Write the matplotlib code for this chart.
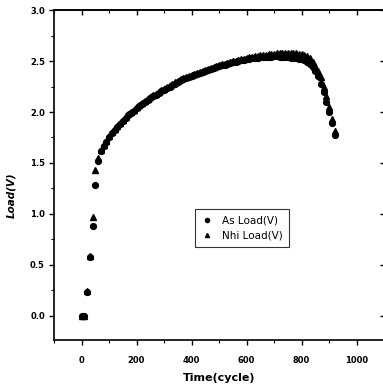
import matplotlib
matplotlib.use("Agg")
import matplotlib.pyplot as plt
from matplotlib.ticker import MultipleLocator

cycles = list(range(0, 930, 10))

as_load = [0.00, 0.00, 0.23, 0.58, 0.88, 1.28, 1.52, 1.62, 1.67, 1.71,
           1.75, 1.79, 1.82, 1.85, 1.88, 1.91, 1.94, 1.97, 1.99, 2.01,
           2.04, 2.06, 2.08, 2.10, 2.12, 2.14, 2.16, 2.17, 2.19, 2.21,
           2.22, 2.24, 2.25, 2.27, 2.28, 2.29, 2.31, 2.32, 2.33, 2.34,
           2.35, 2.36, 2.37, 2.38, 2.39, 2.40, 2.41, 2.42, 2.43, 2.44,
           2.45, 2.46, 2.46, 2.47, 2.48, 2.49, 2.49, 2.50, 2.51, 2.51,
           2.52, 2.52, 2.53, 2.53, 2.53, 2.54, 2.54, 2.54, 2.54, 2.54,
           2.55, 2.55, 2.54, 2.54, 2.54, 2.54, 2.53, 2.53, 2.53, 2.52,
           2.52, 2.51, 2.49, 2.47, 2.44, 2.40, 2.35, 2.28, 2.20, 2.10,
           2.00, 1.89, 1.77]

nhi_load = [0.00, 0.00, 0.24, 0.59, 0.97, 1.43, 1.55, 1.63, 1.68, 1.72,
            1.76, 1.80, 1.83, 1.86, 1.89, 1.92, 1.95, 1.98, 2.00, 2.02,
            2.05, 2.07, 2.09, 2.11, 2.13, 2.15, 2.17, 2.18, 2.20, 2.22,
            2.23, 2.25, 2.26, 2.28, 2.29, 2.30, 2.32, 2.33, 2.34, 2.35,
            2.36, 2.37, 2.38, 2.39, 2.40, 2.41, 2.42, 2.43, 2.44, 2.45,
            2.46, 2.47, 2.47, 2.48, 2.49, 2.50, 2.50, 2.51, 2.52, 2.52,
            2.53, 2.54, 2.54, 2.55, 2.55, 2.56, 2.56, 2.56, 2.57, 2.57,
            2.57, 2.58, 2.58, 2.58, 2.58, 2.58, 2.58, 2.58, 2.58, 2.57,
            2.57, 2.56, 2.55, 2.53, 2.49, 2.45, 2.40, 2.34, 2.25, 2.16,
            2.05, 1.93, 1.81]

xticks = [0, 200, 400, 600, 800, 1000]
yticks = [0.0, 0.5, 1.0, 1.5, 2.0, 2.5, 3.0]

fam = ['Liberation Sans Narrow', 'DejaVu Sans']

fig = plt.figure(figsize=(3.83, 3.91), dpi=100)
ax = fig.add_axes([0.141, 0.130, 1.003 - 0.141, 0.974 - 0.130])

ax.plot(cycles, as_load, linestyle='none', marker='o', markersize=4.2,
        color='black', label='As Load(V)')
ax.plot(cycles, nhi_load, linestyle='none', marker='^', markersize=4.2,
        color='black', label='Nhi Load(V)')

ax.set_xlim(-100, 1100)
ax.set_ylim(-0.24, 3.0)
ax.set_xticks(xticks)
ax.set_yticks(yticks)
ax.set_yticklabels([f"{v:.1f}" for v in yticks])
ax.xaxis.set_minor_locator(MultipleLocator(100))
ax.yaxis.set_minor_locator(MultipleLocator(0.25))

for s in ['left', 'bottom', 'top']:
    ax.spines[s].set_linewidth(1.2)
ax.spines['right'].set_visible(False)

ax.tick_params(axis='both', which='major', direction='out', length=3.5, width=1,
               top=False, right=False)
ax.tick_params(axis='both', which='minor', direction='out', length=2, width=0.8,
               top=False, right=False)

# top ticks pointing into the plot
sx = ax.secondary_xaxis('top')
sx.set_xticks(xticks)
sx.xaxis.set_minor_locator(MultipleLocator(100))
sx.tick_params(which='major', direction='in', length=3.5, width=1, labeltop=False)
sx.tick_params(which='minor', direction='in', length=2, width=0.8)
sx.spines['top'].set_linewidth(1.2)

# right ticks pointing into the plot
sy = ax.secondary_yaxis('right')
sy.set_yticks(yticks)
sy.tick_params(which='major', direction='in', length=3, width=1, labelright=False)
sy.tick_params(which='minor', length=0)

for lab in ax.get_xticklabels() + ax.get_yticklabels():
    lab.set_family(fam)
    lab.set_fontweight('bold')
    lab.set_fontsize(6)
ax.tick_params(axis='x', pad=8)
ax.tick_params(axis='y', pad=3)

ax.set_xlabel('Time(cycle)', family=fam, fontweight='bold', fontsize=8, labelpad=6)
ax.set_ylabel('Load(V)', family=fam, fontweight='bold', fontstyle='italic',
              fontsize=7.5)
ax.yaxis.set_label_coords(-0.115, 0.44)

leg = ax.legend(loc='lower left', bbox_to_anchor=(0.427, 0.282), borderaxespad=0,
                frameon=True, fancybox=False, edgecolor='black', handlelength=1.2,
                handletextpad=0.8, borderpad=0.6, labelspacing=0.5,
                prop={'family': fam, 'size': 7.5}, markerscale=0.7)
leg.get_frame().set_linewidth(0.8)

fig.savefig('out.png', dpi=100)
